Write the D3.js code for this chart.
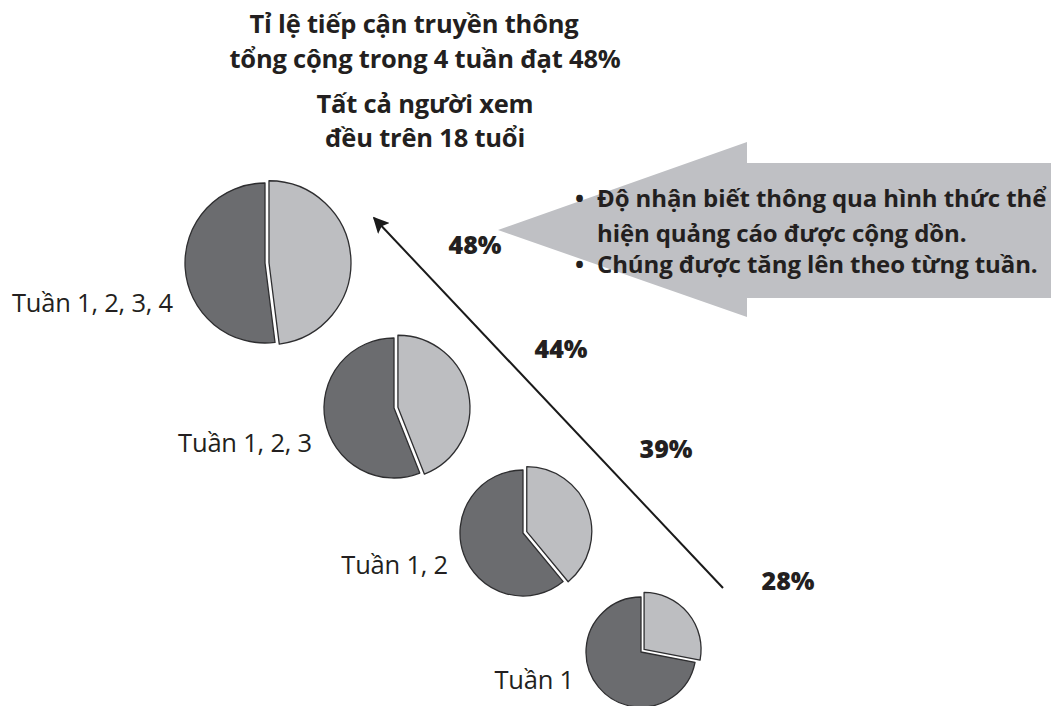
<!DOCTYPE html>
<html lang="vi">
<head>
<meta charset="utf-8">
<script src="https://cdn.jsdelivr.net/npm/d3@7"></script>
<style>
  html, body { margin: 0; padding: 0; background: #fff; }
  svg { display: block; font-family: "Open Sans", "Noto Sans", sans-serif; }
</style>
</head>
<body>
<svg id="chart" width="1051" height="706"></svg>
<script>
// Cumulative media reach by week (percent of viewers reached)
const weekLabels = ["Tuần 1", "Tuần 1, 2", "Tuần 1, 2, 3", "Tuần 1, 2, 3, 4"];
const reachValues = [28, 39, 44, 48];
const reachLabels = ["28%", "39%", "44%", "48%"];

const titleLines = ["Tỉ lệ tiếp cận truyền thông", "tổng cộng trong 4 tuần đạt 48%"];
const subtitleLines = ["Tất cả người xem", "đều trên 18 tuổi"];
const noteLines = [
  { bullet: true, text: "Độ nhận biết thông qua hình thức thể" },
  { bullet: false, text: "hiện quảng cáo được cộng dồn." },
  { bullet: true, text: "Chúng được tăng lên theo từng tuần." }
];

// Layout: pies step up and to the left, growing with each week
const layout = {
  cx: [641, 523, 394, 265],
  cy: [652, 533, 408, 263],
  r: [55, 63, 70, 80],
  pct: [[788, 581], [666, 449], [561, 349], [475, 245]],
  titleX: [414, 425],
  titleY: [33, 68],
  subY: [113, 147],
  noteY: [207, 242, 273]
};

const colors = { reached: "#bdbec1", rest: "#6b6c6f", stroke: "#2e2e30", text: "#231f20", band: "#bfc0c4" };

const svg = d3.select("#chart");

// Titles
const title = svg.append("g").attr("fill", colors.text).attr("font-weight", 700)
  .attr("font-size", 25.5).attr("text-anchor", "middle").attr("letter-spacing", -0.2);
title.selectAll("text.t").data(titleLines).join("text")
  .attr("class", "t").attr("x", (d, i) => layout.titleX[i]).attr("y", (d, i) => layout.titleY[i]).text(d => d);
title.selectAll("text.s").data(subtitleLines).join("text")
  .attr("class", "s").attr("x", 425).attr("y", (d, i) => layout.subY[i]).text(d => d);

// Big grey arrow pointing toward the cumulative pies
const band = d3.path();
band.moveTo(498, 230);
band.lineTo(747, 142);
band.lineTo(747, 163);
band.lineTo(1051, 163);
band.lineTo(1051, 298);
band.lineTo(747, 298);
band.lineTo(747, 317);
band.closePath();
svg.append("path").attr("d", band.toString()).attr("fill", colors.band);

const notes = svg.append("g").attr("fill", colors.text).attr("font-weight", 700)
  .attr("font-size", 24).attr("letter-spacing", -0.1);
noteLines.forEach((d, i) => {
  const y = layout.noteY[i];
  if (d.bullet) notes.append("text").attr("x", 575).attr("y", y).text("•");
  notes.append("text").attr("x", 597).attr("y", y).text(d.text);
});

// Diagonal growth arrow
svg.append("defs").append("marker")
  .attr("id", "head").attr("viewBox", "0 0 10 10").attr("refX", 9).attr("refY", 5)
  .attr("markerWidth", 8).attr("markerHeight", 8).attr("orient", "auto")
  .append("path").attr("d", "M0,0 L10,5 L0,10 L2,5 Z").attr("fill", "#1a1a1a");
svg.append("line")
  .attr("x1", 723).attr("y1", 588).attr("x2", 374).attr("y2", 218)
  .attr("stroke", "#1a1a1a").attr("stroke-width", 2).attr("marker-end", "url(#head)");

// Pies: the reached slice is pulled slightly out from the rest
const pie = d3.pie().sort(null).value(d => d.v);
reachValues.forEach((v, i) => {
  const r = layout.r[i];
  const arcs = pie([{ k: "reached", v: v }, { k: "rest", v: 100 - v }]);
  const g = svg.append("g").attr("transform", `translate(${layout.cx[i]},${layout.cy[i]})`);
  arcs.forEach(a => {
    const isReached = a.data.k === "reached";
    const rr = isReached ? r + 2 : r;
    const off = isReached ? 4 : 0;
    const mid = (a.startAngle + a.endAngle) / 2;
    const arc = d3.arc().innerRadius(0).outerRadius(rr);
    g.append("path")
      .attr("d", arc(a))
      .attr("transform", `translate(${off * Math.sin(mid)},${-off * Math.cos(mid)})`)
      .attr("fill", isReached ? colors.reached : colors.rest)
      .attr("stroke", colors.stroke).attr("stroke-width", 1.3).attr("stroke-linejoin", "round");
  });
});

// Week labels, right-aligned to the left of each pie
svg.append("g").attr("fill", colors.text).attr("font-size", 25.5).attr("text-anchor", "end")
  .attr("letter-spacing", -0.2)
  .selectAll("text").data(weekLabels).join("text")
  .attr("x", (d, i) => layout.cx[i] - layout.r[i] - 12)
  .attr("y", (d, i) => layout.cy[i] + layout.r[i] * 0.5 + 9)
  .text(d => d);

// Percentage labels along the arrow
svg.append("g").attr("fill", colors.text).attr("font-weight", 800).attr("font-size", 25)
  .attr("text-anchor", "middle")
  .selectAll("text").data(reachLabels).join("text")
  .attr("x", (d, i) => layout.pct[i][0])
  .attr("y", (d, i) => layout.pct[i][1] + 9)
  .text(d => d);
</script>
</body>
</html>
